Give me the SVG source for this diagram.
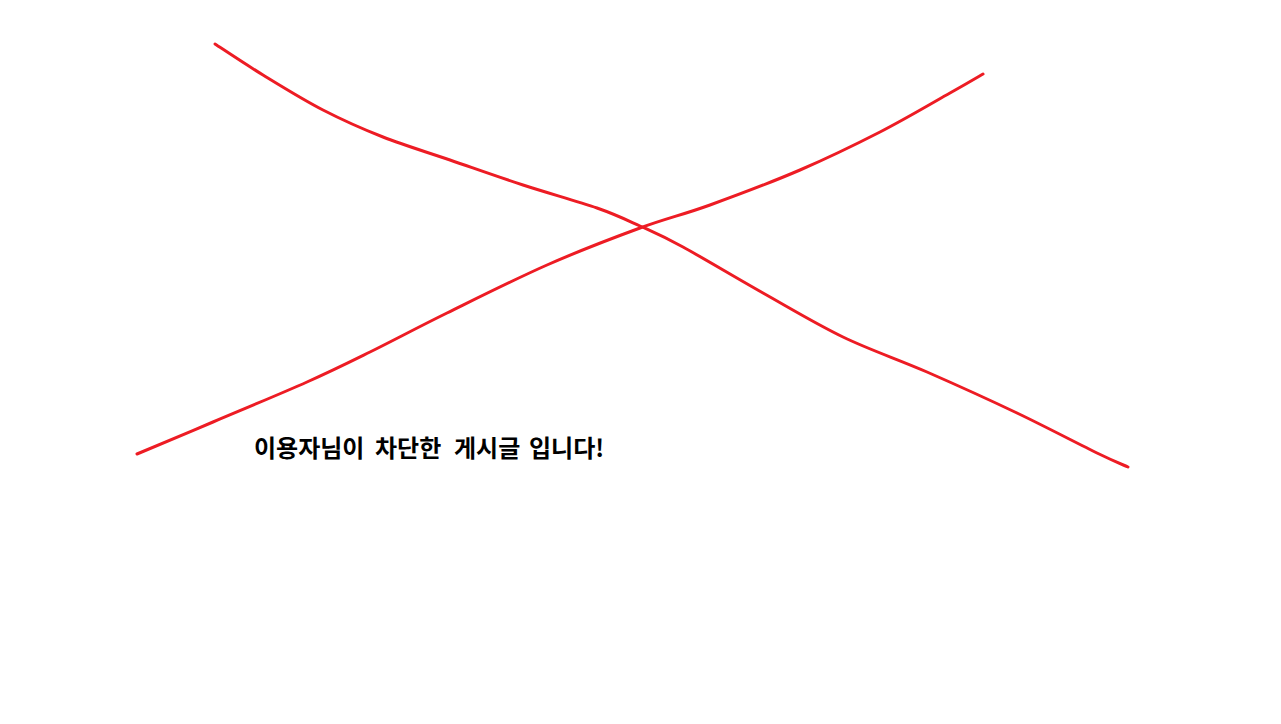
<svg xmlns="http://www.w3.org/2000/svg" width="1281" height="724" viewBox="0 0 1281 724">
<style>
.stroke{fill:none;stroke:#ed1c24;stroke-width:3;stroke-linejoin:round;stroke-linecap:round}
.msg{font-family:"Noto Sans CJK KR","Noto Sans",sans-serif;font-weight:bold;font-size:24px;fill:#000}
</style>
<rect width="1281" height="724" fill="#fff"/>
<g id="cross">
<path id="line1" class="stroke" d="M215,44 C223,49.2 245,64 263,75 C281,86 303,99.7 323,110 C343,120.3 361.8,128.7 383,137 C404.2,145.3 426.7,152 450,160 C473.3,168 498.5,177 523,185 C547.5,193 577.5,201.2 597,208 C616.5,214.8 625.7,219.5 640,226 C654.3,232.5 662.5,235.8 683,247 C703.5,258.2 736.3,278 763,293 C789.7,308 815.7,323.8 843,337 C870.3,350.2 898,359.3 927,372 C956,384.7 988.7,399.5 1017,413 C1045.3,426.5 1078.5,444 1097,453 C1115.5,462 1122.8,464.7 1128,467"/>
<path id="line2" class="stroke" d="M137,454 C149.7,448.7 184.7,434 213,422 C241.3,410 280.8,393.7 307,382 C333.2,370.3 346.7,363.5 370,352 C393.3,340.5 417.5,327.5 447,313 C476.5,298.5 514.8,279.2 547,265 C579.2,250.8 612.8,238 640,228 C667.2,218 683.3,214.7 710,205 C736.7,195.3 771.7,182.2 800,170 C828.3,157.8 855,144.8 880,132 C905,119.2 932.8,102.7 950,93 C967.2,83.3 977.5,77.2 983,74"/>
</g>
<text id="message" class="msg" y="457"><tspan x="254">이용자님이</tspan><tspan x="375">차단한</tspan><tspan x="454">게시글</tspan><tspan x="529">입니다!</tspan></text>
</svg>
